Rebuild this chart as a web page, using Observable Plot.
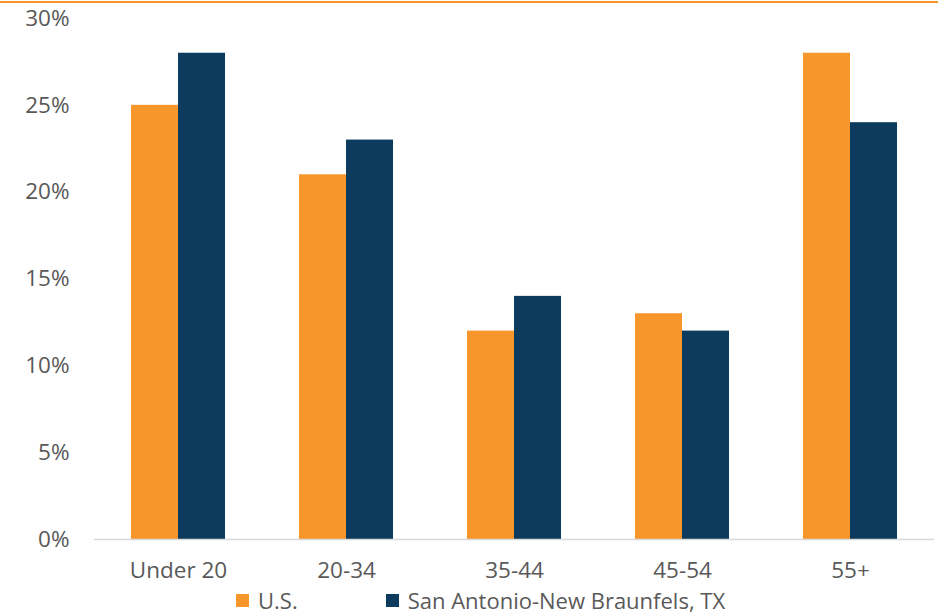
<!DOCTYPE html>
<html>
<head>
<meta charset="utf-8">
<script src="https://cdn.jsdelivr.net/npm/d3@7"></script>
<script src="https://cdn.jsdelivr.net/npm/@observablehq/plot@0.6"></script>
<style>
  html, body { margin: 0; padding: 0; background: #fff; }
  #wrap { position: relative; width: 938px; height: 616px; font-family: "Open Sans", sans-serif; }
  #topline { position: absolute; left: 0; top: 1px; width: 938px; height: 2px; background: #F7962B; }
  #chart { position: absolute; left: 0; top: 0; }
  #legend { position: absolute; top: 588px; left: 236px; display: flex; align-items: center; font-size: 22px; line-height: 24px; color: #595959; white-space: nowrap; }
  .item { display: flex; align-items: center; }
  .sw { width: 13px; height: 13px; display: inline-block; margin-right: 9px; }
</style>
</head>
<body>
<div id="wrap">
  <div id="chart"></div>
  <div id="topline"></div>
  <div id="legend"></div>
</div>
<script>
const categories = ["Under 20", "20-34", "35-44", "45-54", "55+"];
const seriesNames = ["U.S.", "San Antonio-New Braunfels, TX"];
const usValues = [25, 21, 12, 13, 28];
const saValues = [28, 23, 14, 12, 24];
const seriesColors = ["#F7962B", "#0C3B5E"];
const yTicks = [0, 5, 10, 15, 20, 25, 30];

const data = [];
categories.forEach((c, i) => {
  data.push({category: c, series: seriesNames[0], value: usValues[i]});
  data.push({category: c, series: seriesNames[1], value: saValues[i]});
});

const chart = Plot.plot({
  width: 938,
  height: 616,
  marginTop: 18,
  marginBottom: 77,
  marginLeft: 93,
  marginRight: 3,
  style: { fontFamily: "'Open Sans', sans-serif", fontSize: "22.5px", color: "#595959", background: "transparent" },
  fx: { domain: categories, padding: 0, label: null, axis: "bottom", tickSize: 0, tickPadding: 23 },
  x: { domain: seriesNames, paddingInner: 0, paddingOuter: 0.754, axis: null },
  y: { domain: [0, 30], ticks: yTicks, tickFormat: d => d + "%", label: null, tickSize: 0, tickPadding: 25 },
  color: { domain: seriesNames, range: seriesColors },
  marks: [
    Plot.barY(data, { fx: "category", x: "series", y: "value", fill: "series" }),
    Plot.ruleY([0], { stroke: "#D9D9D9", strokeWidth: 1.5 })
  ]
});
document.getElementById("chart").appendChild(chart);

const legend = document.getElementById("legend");
seriesNames.forEach((name, i) => {
  const it = document.createElement("div");
  it.className = "item";
  if (i > 0) it.style.marginLeft = "88px";
  const sw = document.createElement("span");
  sw.className = "sw";
  sw.style.background = seriesColors[i];
  it.appendChild(sw);
  const t = document.createElement("span");
  t.textContent = name;
  it.appendChild(t);
  legend.appendChild(it);
});
</script>
</body>
</html>
